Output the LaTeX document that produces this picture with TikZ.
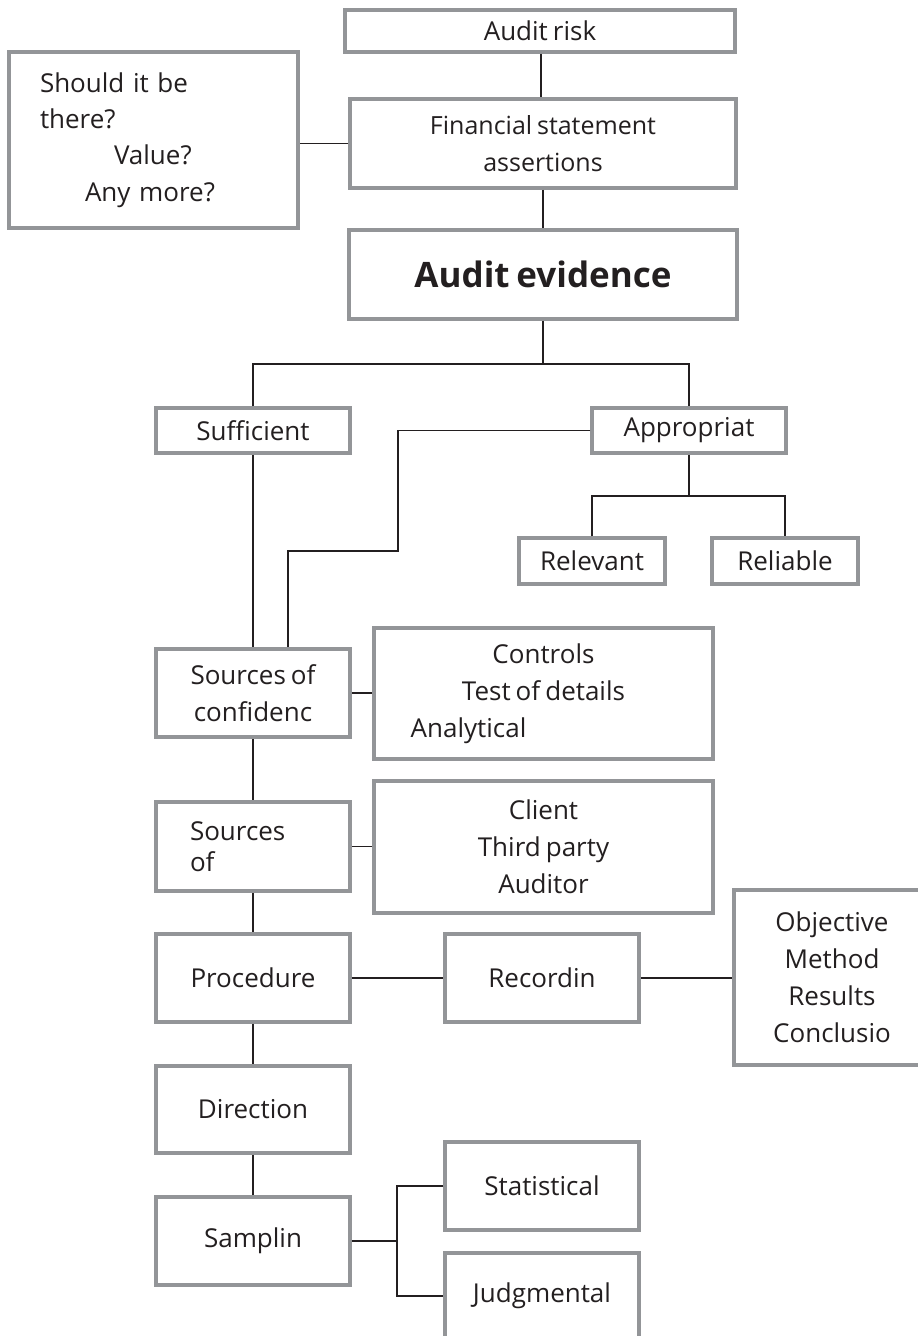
\documentclass[tikz,border=0pt]{standalone}
\usepackage{fontspec}
\setmainfont[WordSpace=0.75]{Open Sans}
\definecolor{boxgray}{HTML}{939598}
\definecolor{ink}{HTML}{231F20}
\newcommand\boxfont{\fontsize{26}{37}\selectfont}
\newcommand\headfont{\fontsize{35}{40}\selectfont\bfseries}
\tikzset{
  box/.style={draw=boxgray, line width=3.5pt, fill=white, inner sep=0pt,
              align=center, text=ink, font=\boxfont},
  link/.style={draw=ink, line width=1.9pt},
}
\begin{document}
\begin{tikzpicture}[x=1pt,y=-1pt]
\useasboundingbox (0,0) rectangle (918,1336);

% top of the chart
\node[box, minimum width=390pt, minimum height=42pt] (risk) at (540,31) {Audit risk};
\node[box, minimum width=386pt, minimum height=89pt, font=\fontsize{25}{37}\selectfont]
  (fsa) at (543,143.5) {Financial statement\\assertions};
\node[box, minimum width=289pt, minimum height=176pt, align=left, text width=227pt,
      font=\fontsize{26}{36.3}\selectfont] (quest) at (153.5,140)
  {Should it be\\there?\\\hspace*{74pt}Value?\\\hspace*{45pt}Any more?};
\node[box, minimum width=388pt, minimum height=89pt, font=\headfont] (evid) at (543,274.5)
  {Audit evidence};

% sufficient / appropriate
\node[box, minimum width=194pt, minimum height=45pt] (suff) at (253,430.5) {Sufficient};
\node[box, minimum width=194pt, minimum height=45pt] (appr) at (689,430.5) {Appropriat};
\node[box, minimum width=146pt, minimum height=46pt] (relev) at (592,561) {Relevant};
\node[box, minimum width=146pt, minimum height=46pt] (relia) at (785,561) {Reliable};

% main column
\node[box, minimum width=194pt, minimum height=88pt] (conf) at (253,693)
  {Sources of\\confidenc};
\node[box, minimum width=339pt, minimum height=131pt] (ctrl) at (543.5,693.5)
  {Controls\\Test of details\\Analytical\hspace*{150pt}};
\node[box, minimum width=194pt, minimum height=89pt, align=left, text width=126pt,
      font=\fontsize{26}{31}\selectfont] (srcs) at (253,846.5) {Sources\\of};
\node[box, minimum width=339pt, minimum height=132pt] (client) at (543.5,847)
  {Client\\Third party\\Auditor};
\node[box, minimum width=194pt, minimum height=88pt] (proc) at (253,978) {Procedure};
\node[box, minimum width=194pt, minimum height=88pt] (rec) at (542,978) {Recordin};
\node[box, minimum width=196pt, minimum height=175pt] (obj) at (832,977.5)
  {Objective\\Method\\Results\\Conclusio};
\node[box, minimum width=194pt, minimum height=87pt] (dir) at (253,1109.5) {Direction};
\node[box, minimum width=194pt, minimum height=88pt] (samp) at (253,1241) {Samplin};
\node[box, minimum width=194pt, minimum height=88pt] (stat) at (542,1186) {Statistical};
\node[box, minimum width=194pt, minimum height=86pt] (judg) at (542,1296) {Judgmental};

% junction points
\coordinate (j1) at (543,364);
\coordinate (j2) at (689,496);
\coordinate (b1) at (398,551);
\coordinate (j3) at (397,1241);

% connectors
\draw[link] (risk.south -| 541,0) -- (fsa.north -| 541,0);
\draw[link] (fsa.west) -- (fsa.west -| quest.east);
\draw[link] (fsa.south) -- (evid.north);
\draw[link] (evid.south) -- (j1);
\draw[link] (suff.north) |- (j1) -| (appr.north);
\draw[link] (appr.south) -- (j2);
\draw[link] (relev.north) |- (j2) -| (relia.north);
\draw[link] (suff.south) -- (conf.north);
\draw[link] (appr.west) -| (b1) -| ([xshift=35pt]conf.north);
\draw[link] (conf.east) -- (conf.east -| ctrl.west);
\draw[link] (conf.south) -- (srcs.north);
\draw[link] (srcs.east) -- (srcs.east -| client.west);
\draw[link] (srcs.south) -- (proc.north);
\draw[link] (proc.east) -- (rec.west);
\draw[link] (rec.east) -- (rec.east -| obj.west);
\draw[link] (proc.south) -- (dir.north);
\draw[link] (dir.south) -- (samp.north);
\draw[link] (samp.east) -- (j3);
\draw[link] (stat.west) -| (j3) |- (judg.west);
\end{tikzpicture}
\end{document}
